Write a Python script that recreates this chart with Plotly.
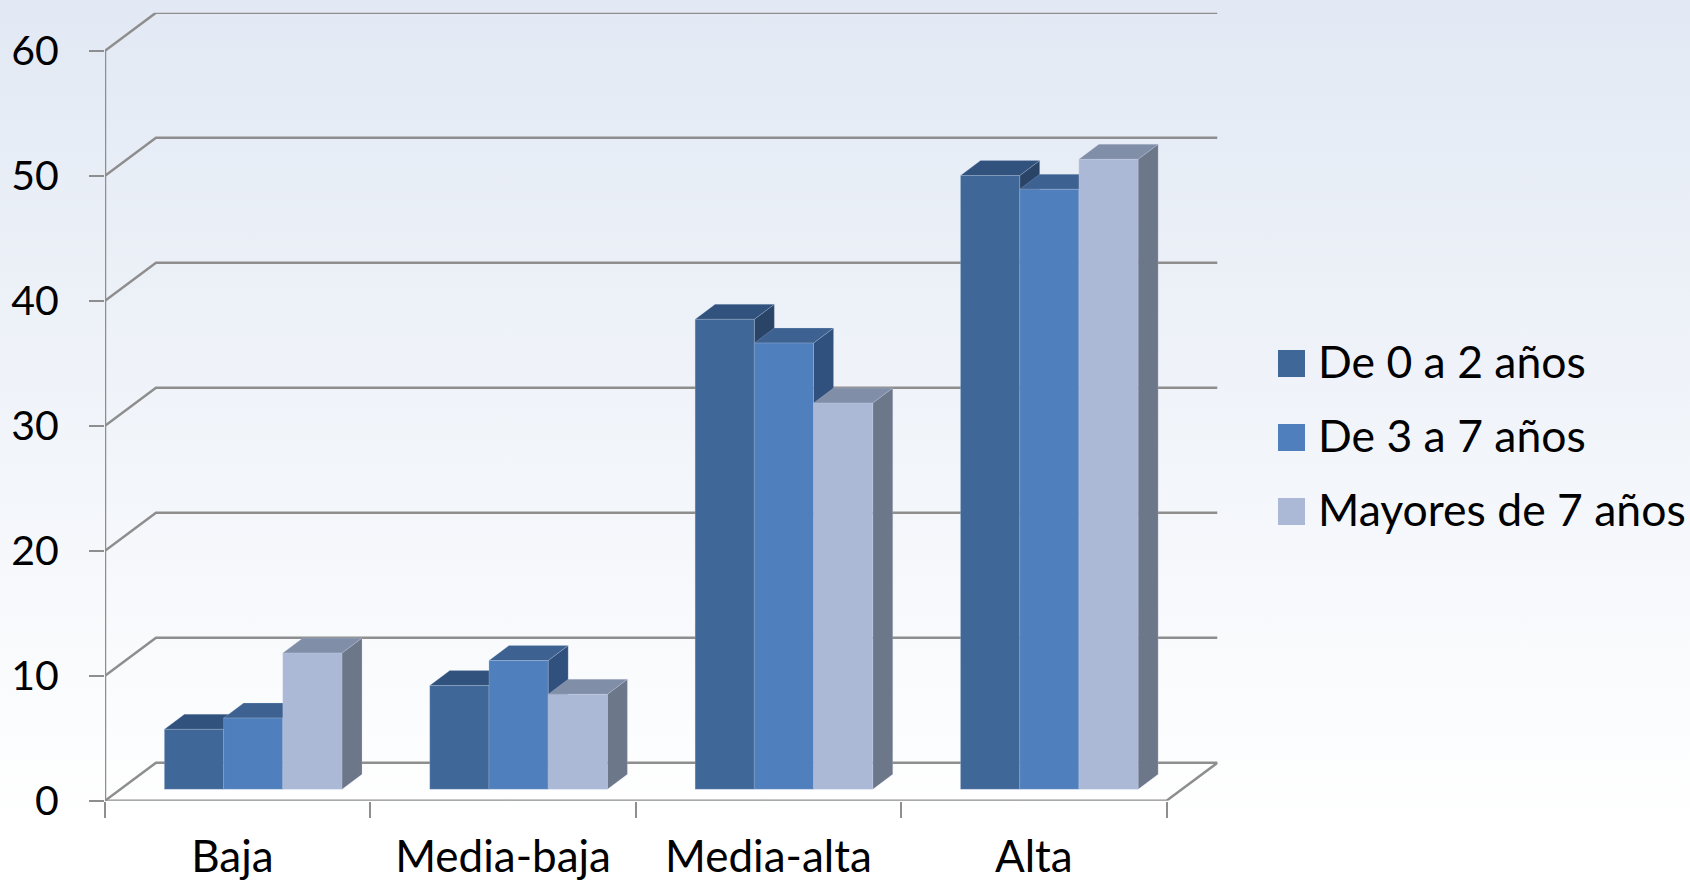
import plotly.graph_objects as go

# data
categories = ['Baja', 'Media-baja', 'Media-alta', 'Alta']
de_0_a_2 = [4.8, 8.3, 37.6, 49.1]
de_3_a_7 = [5.7, 10.3, 35.7, 48.0]
mayores_7 = [10.9, 7.6, 30.9, 50.4]
series_names = ['De 0 a 2 años', 'De 3 a 7 años', 'Mayores de 7 años']
y_ticks = [0, 10, 20, 30, 40, 50, 60]

W, H = 1690, 886
FONT = 'Lato'
GRID = '#8e8e8e'
EDGE = 'rgba(205,215,235,0.22)'

# pixel calibration of the front wall
X0, X4 = 105.0, 1166.5
Y0, Y60 = 800.7, 50.7
CAT = (X4 - X0) / 4
UNIT = (Y0 - Y60) / 60
# depth of the box, in axis units
BOX_DX = 51 / CAT
BOX_DY = 38 / UNIT
# bar placement, in axis units
BAR_W = 59.2 / CAT
BAR_DX = 20 / CAT
BAR_DY = 15 / UNIT
SHIFT_X = 15.5 / CAT
SHIFT_Y = 11.4 / UNIT

values = [de_0_a_2, de_3_a_7, mayores_7]
front_cols = ['#3f6899', '#4f80bd', '#abb9d7']
top_cols = ['#30527c', '#3d6291', '#818ea8']
side_cols = ['#2a4468', '#30507d', '#6c778a']

fig = go.Figure()

# page background, on a full page subplot
fig.add_trace(go.Scatter(
    x=[0, 1, 1, 0, 0], y=[0, 0, 1, 1, 0], mode='none', fill='toself',
    fillgradient=dict(type='vertical', colorscale=[[0, '#ffffff'], [0.07, '#ffffff'], [1, '#e2e9f4']]),
    hoverinfo='skip', showlegend=False, xaxis='x', yaxis='y'))


def line(xs, ys, width=2.5):
    fig.add_trace(go.Scatter(x=xs, y=ys, mode='lines', line=dict(color=GRID, width=width),
                             hoverinfo='skip', showlegend=False, cliponaxis=False,
                             xaxis='x2', yaxis='y2'))


# walls and floor
for v in y_ticks:
    line([0, BOX_DX, 4 + BOX_DX], [v, v + BOX_DY, v + BOX_DY])
line([0, 4, 4 + BOX_DX], [0, 0, BOX_DY])
line([0, 0], [0, 60])


def face(xs, ys, col):
    fig.add_trace(go.Scatter(x=xs, y=ys, mode='lines', fill='toself', fillcolor=col,
                             line=dict(color=EDGE, width=1), hoverinfo='skip', showlegend=False,
                             cliponaxis=False, xaxis='x2', yaxis='y2'))


# side and top of each bar, left to right
for c in range(len(categories)):
    left = c + 0.5 + SHIFT_X - 1.5 * BAR_W
    for s in range(3):
        xl = left + s * BAR_W
        xr = xl + BAR_W
        top = SHIFT_Y + values[s][c]
        face([xr, xr + BAR_DX, xr + BAR_DX, xr, xr],
             [SHIFT_Y, SHIFT_Y + BAR_DY, top + BAR_DY, top, SHIFT_Y], side_cols[s])
        face([xl, xl + BAR_DX, xr + BAR_DX, xr, xl],
             [top, top + BAR_DY, top + BAR_DY, top, top], top_cols[s])

# front faces, on an overlaying subplot so they cover the depth faces
for s in range(3):
    fig.add_trace(go.Bar(
        x=[c + 0.5 + SHIFT_X + (s - 1) * BAR_W for c in range(len(categories))],
        y=values[s], base=SHIFT_Y, width=BAR_W, name=series_names[s],
        marker=dict(color=front_cols[s], line=dict(width=1, color=EDGE)),
        showlegend=False, xaxis='x3', yaxis='y3'))

# legend
LEG_Y = [363.5, 437.5, 511.5]
for name, col, ly in zip(series_names, front_cols, LEG_Y):
    fig.add_shape(type='rect', xref='paper', yref='paper', x0=1278 / W, x1=1305 / W,
                  y0=1 - (ly - 13.5) / H, y1=1 - (ly + 13.5) / H, fillcolor=col, line_width=0)
    fig.add_annotation(xref='paper', yref='paper', x=1316 / W, y=1 - (ly - 3) / H, text=name,
                       showarrow=False, xanchor='left', yanchor='middle',
                       font=dict(family=FONT, size=44.5, color='#000000'))

x_range = [0, 4 + BOX_DX]
y_range = [0, 60 + BOX_DY]
dom_x = [X0 / W, (X0 + CAT * x_range[1]) / W]
dom_y = [1 - Y0 / H, 1 - (Y0 - UNIT * y_range[1]) / H]

fig.update_layout(
    width=W, height=H, margin=dict(l=0, r=0, t=0, b=0),
    paper_bgcolor='#ffffff', plot_bgcolor='rgba(0,0,0,0)',
    showlegend=False, barmode='overlay',
    font=dict(family=FONT, size=44, color='#000000'),
    xaxis=dict(domain=[0, 1], range=[0, 1], visible=False, fixedrange=True),
    yaxis=dict(domain=[0, 1], range=[0, 1], visible=False, fixedrange=True),
    xaxis2=dict(domain=dom_x, range=x_range, anchor='y2', showgrid=False, zeroline=False,
                automargin=False,
                tickmode='array', tickvals=[0.48, 1.5, 2.5, 3.5], ticktext=categories, ticks='',
                tickfont=dict(family=FONT, size=44, color='#000000'), ticklabelstandoff=26,
                minor=dict(tickmode='linear', tick0=0, dtick=1, ticks='outside', ticklen=16,
                           tickwidth=2, tickcolor=GRID, showgrid=False)),
    yaxis2=dict(domain=dom_y, range=y_range, anchor='x2', showgrid=False, zeroline=False,
                automargin=False,
                tickmode='array', tickvals=y_ticks, ticks='outside', ticklen=15, tickwidth=2,
                tickcolor=GRID, tickfont=dict(family=FONT, size=41, color='#000000'),
                ticklabelstandoff=22),
    xaxis3=dict(overlaying='x2', range=x_range, visible=False, anchor='y3', automargin=False),
    yaxis3=dict(overlaying='y2', range=y_range, visible=False, anchor='x3', automargin=False),
)

fig.write_html("out.html", config=dict(displayModeBar=False),
               post_script="document.body.style.margin='0';")
